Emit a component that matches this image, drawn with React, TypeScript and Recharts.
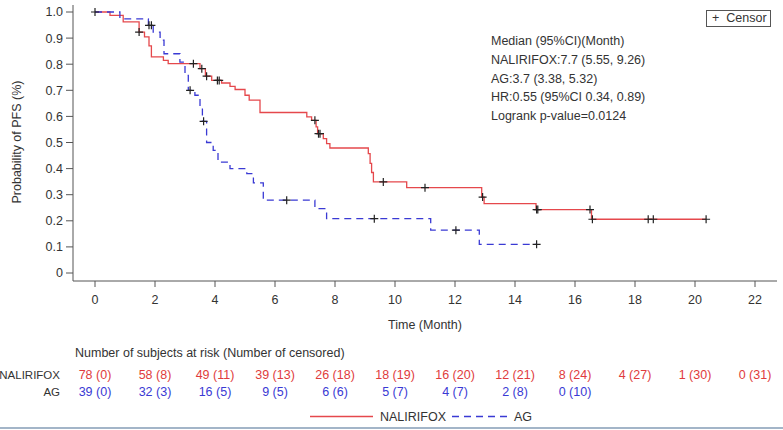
import React from "react";
import {
  ComposedChart,
  Line,
  Scatter,
  XAxis,
  YAxis,
} from "recharts";

// Kaplan-Meier steps (time in months, survival)
const nalTimes = [0, 0.5, 0.94, 1.47, 1.65, 1.8, 1.88, 2.28, 2.44, 3.5, 3.68, 3.89, 4.22, 4.5, 4.67, 5.0, 5.14, 5.5, 7.06, 7.22, 7.37, 7.42, 7.61, 7.72, 7.83, 9.11, 9.17, 9.22, 9.28, 10.39, 12.89, 12.97, 14.7, 16.55, 20.37];
const nalSurv = [1, 0.987, 0.962, 0.923, 0.905, 0.87, 0.828, 0.815, 0.802, 0.783, 0.754, 0.738, 0.728, 0.715, 0.703, 0.681, 0.662, 0.615, 0.598, 0.585, 0.56, 0.534, 0.515, 0.496, 0.479, 0.457, 0.42, 0.385, 0.349, 0.327, 0.291, 0.266, 0.243, 0.206, 0.206];

const agTimes = [0, 0.83, 1.78, 1.94, 2.17, 2.3, 2.83, 3.0, 3.11, 3.33, 3.5, 3.58, 3.72, 3.94, 4.1, 4.5, 5.06, 5.28, 5.61, 7.33, 7.72, 11.19, 12.81, 14.72];
const agSurv = [1, 0.974, 0.949, 0.923, 0.892, 0.84, 0.808, 0.757, 0.7, 0.681, 0.636, 0.581, 0.5, 0.47, 0.425, 0.4, 0.381, 0.345, 0.279, 0.247, 0.208, 0.164, 0.11, 0.11];

// censored observations
const nalCensorT = [0, 1.47, 3.28, 3.56, 3.72, 4.08, 4.14, 7.33, 7.45, 7.5, 9.61, 11.0, 12.92, 14.72, 14.76, 16.5, 16.58, 18.44, 18.61, 20.37];
const nalCensorS = [1, 0.923, 0.802, 0.783, 0.754, 0.738, 0.738, 0.585, 0.534, 0.534, 0.349, 0.327, 0.291, 0.243, 0.243, 0.243, 0.206, 0.206, 0.206, 0.206];
const agCensorT = [1.8, 1.88, 3.17, 3.62, 6.39, 9.31, 12.03, 14.72];
const agCensorS = [0.949, 0.949, 0.7, 0.581, 0.279, 0.208, 0.164, 0.11];

const xTicks = [0, 2, 4, 6, 8, 10, 12, 14, 16, 18, 20, 22];
const yTicks = [0, 0.1, 0.2, 0.3, 0.4, 0.5, 0.6, 0.7, 0.8, 0.9, 1.0];

const nalRisk = ["78 (0)", "58 (8)", "49 (11)", "39 (13)", "26 (18)", "18 (19)", "16 (20)", "12 (21)", "8 (24)", "4 (27)", "1 (30)", "0 (31)"];
const agRisk = ["39 (0)", "32 (3)", "16 (5)", "9 (5)", "6 (6)", "5 (7)", "4 (7)", "2 (8)", "0 (10)"];

const annotations = [
  "Median (95%CI)(Month)",
  "NALIRIFOX:7.7 (5.55, 9.26)",
  "AG:3.7 (3.38, 5.32)",
  "HR:0.55 (95%CI 0.34, 0.89)",
  "Logrank p-value=0.0124",
];

const RED = "#e5484c";
const RED_TXT = "#e03c3c";
const BLUE = "#3a3ad4";
const FRAME = "#555";
const TXT = "#333";
const FONT = "'Liberation Sans', Arial, sans-serif";

const toPoints = (t: number[], s: number[]) => t.map((v, i) => ({ t: v, s: s[i] }));
const nalData = toPoints(nalTimes, nalSurv);
const agData = toPoints(agTimes, agSurv);
const nalCensor = toPoints(nalCensorT, nalCensorS);
const agCensor = toPoints(agCensorT, agCensorS);

const Plus = (p: any) => {
  const { cx, cy } = p;
  if (cx == null || cy == null) return null;
  return (
    <path
      d={`M${cx - 4},${cy}h8M${cx},${cy - 4}v8`}
      stroke="#222"
      strokeWidth={1.2}
      fill="none"
    />
  );
};

// x tick with the numbers-at-risk rows underneath
const RiskTick = (props: any) => {
  const { x, y, payload } = props;
  const i = xTicks.indexOf(payload.value);
  const base = y - 6; // axis line
  return (
    <g fontFamily={FONT} fontSize={12.5}>
      <text x={x} y={base + 22.5} textAnchor="middle" fill={TXT}>
        {payload.value}
      </text>
      {i === 0 && (
        <>
          <text x={x - 35} y={base + 98} textAnchor="end" fill={TXT} fontSize={11.5}>NALIRIFOX</text>
          <text x={x - 35} y={base + 115} textAnchor="end" fill={TXT} fontSize={11.5}>AG</text>
        </>
      )}
      {nalRisk[i] && (
        <text x={x} y={base + 98} textAnchor="middle" fill={RED_TXT}>{nalRisk[i]}</text>
      )}
      {agRisk[i] && (
        <text x={x} y={base + 115} textAnchor="middle" fill={BLUE}>{agRisk[i]}</text>
      )}
    </g>
  );
};

const XExtras = (props: any) => {
  const vb = props.viewBox || { x: 73, y: 281, width: 704, height: 149 };
  const cx = vb.x + vb.width / 2;
  const base = vb.y;
  return (
    <g fontFamily={FONT} fontSize={12.5} fill={TXT}>
      <text x={cx} y={base + 48} textAnchor="middle" fill={TXT}>Time (Month)</text>
      <text x={vb.x + 2} y={base + 76} fill={TXT}>
        Number of subjects at risk (Number of censored)
      </text>
      <line x1={cx - 115} x2={cx - 52} y1={base + 135.5} y2={base + 135.5} stroke={RED} strokeWidth={1.3} />
      <text x={cx - 45} y={base + 140} fill={TXT}>NALIRIFOX</text>
      <line x1={cx + 27} x2={cx + 85} y1={base + 135.5} y2={base + 135.5} stroke={BLUE} strokeWidth={1.3} strokeDasharray="7 5" />
      <text x={cx + 89} y={base + 140} fill={TXT}>AG</text>
    </g>
  );
};

const YLabel = (props: any) => {
  const vb = props.viewBox || { x: 0, y: 5, width: 73, height: 276 };
  const cy = vb.y + vb.height / 2 - 1;
  return (
    <text
      x={17}
      y={cy}
      transform={`rotate(-90, 17, ${cy})`}
      textAnchor="middle"
      dominantBaseline="central"
      fontFamily={FONT}
      fontSize={12.5}
      fill={TXT}
    >
      Probability of PFS (%)
    </text>
  );
};

export default function App() {
  return (
    <div style={{ position: "absolute", left: 0, top: 0, width: 783, height: 430, background: "#fff" }}>
      <ComposedChart
        width={783}
        height={430}
        margin={{ top: 5, right: 6, bottom: 0, left: 0 }}
      >
        <XAxis
          dataKey="t"
          type="number"
          domain={[0, 22]}
          ticks={xTicks}
          padding={{ left: 22, right: 22 }}
          height={149}
          tickSize={6}
          tickMargin={0}
          stroke={FRAME}
          tick={<RiskTick />}
          interval={0}
          label={<XExtras />}
        />
        <XAxis
          xAxisId="top"
          orientation="top"
          type="number"
          domain={[0, 22]}
          height={0}
          tick={false}
          tickLine={false}
          stroke={FRAME}
        />
        <YAxis
          type="number"
          domain={[0, 1]}
          ticks={yTicks}
          padding={{ top: 7, bottom: 8 }}
          width={73}
          tickSize={7}
          tickMargin={3}
          stroke={FRAME}
          tick={{ fill: TXT, fontSize: 12.5, fontFamily: FONT }}
          tickFormatter={(v: number) => (v === 0 ? "0" : v.toFixed(1))}
          interval={0}
          label={<YLabel />}
        />
        <YAxis
          yAxisId="right"
          orientation="right"
          type="number"
          domain={[0, 1]}
          width={0}
          tick={false}
          tickLine={false}
          stroke={FRAME}
        />
        <Line
          data={nalData}
          dataKey="s"
          type="stepAfter"
          stroke={RED}
          strokeWidth={1.3}
          dot={false}
          activeDot={false}
          isAnimationActive={false}
        />
        <Line
          data={agData}
          dataKey="s"
          type="stepAfter"
          stroke={BLUE}
          strokeWidth={1.3}
          strokeDasharray="7 5"
          dot={false}
          activeDot={false}
          isAnimationActive={false}
        />
        <Scatter data={nalCensor} dataKey="s" shape={<Plus />} isAnimationActive={false} />
        <Scatter data={agCensor} dataKey="s" shape={<Plus />} isAnimationActive={false} />
      </ComposedChart>

      <div
        style={{
          position: "absolute",
          left: 491,
          top: 32,
          fontFamily: FONT,
          fontSize: 12.5,
          lineHeight: "18.75px",
          color: TXT,
          whiteSpace: "pre",
        }}
      >
        {annotations.map((a) => (
          <div key={a}>{a}</div>
        ))}
      </div>

      <div
        style={{
          position: "absolute",
          left: 706,
          top: 10,
          width: 65,
          height: 17,
          boxSizing: "border-box",
          border: `1px solid ${FRAME}`,
          fontFamily: FONT,
          fontSize: 12.5,
          lineHeight: "15px",
          color: TXT,
          whiteSpace: "pre",
          paddingLeft: 5,
        }}
      >
        {"+  Censor"}
      </div>

      <div
        style={{
          position: "absolute",
          left: 0,
          top: 427,
          width: 783,
          height: 2,
          background: "#a3b5c8",
        }}
      />
    </div>
  );
}
